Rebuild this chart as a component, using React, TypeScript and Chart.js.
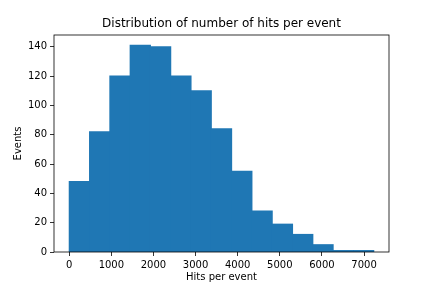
import React, { useEffect, useRef } from "react";
import { Chart, registerables } from "chart.js";

Chart.register(...registerables);

const binEdges = [0, 482, 964, 1446, 1928, 2410, 2892, 3374, 3856, 4338, 4820, 5302, 5784, 6266, 6748, 7230];
const counts = [48, 82, 120, 141, 140, 120, 110, 84, 55, 28, 19, 12, 5, 1, 1];
const xTicks = [0, 1000, 2000, 3000, 4000, 5000, 6000, 7000];
const yTicks = [0, 20, 40, 60, 80, 100, 120, 140];
const titleText = "Distribution of number of hits per event";

const FONT = "DejaVu Sans";

const framePlugin = {
  id: "frame",
  afterDraw(chart: any) {
    const { ctx, chartArea } = chart;
    ctx.save();
    ctx.strokeStyle = "#000";
    ctx.lineWidth = 0.8;
    ctx.strokeRect(chartArea.left, chartArea.top, chartArea.right - chartArea.left, chartArea.bottom - chartArea.top);
    ctx.fillStyle = "#000";
    ctx.font = `12px "${FONT}"`;
    ctx.textAlign = "center";
    ctx.textBaseline = "middle";
    ctx.fillText(titleText, (chartArea.left + chartArea.right) / 2, 24);
    ctx.restore();
  },
};

export default function App() {
  const ref = useRef<HTMLCanvasElement>(null);
  useEffect(() => {
    if (!ref.current) return;
    const span = binEdges[binEdges.length - 1] - binEdges[0];
    const chart = new Chart(ref.current, {
      type: "bar",
      data: {
        datasets: [
          {
            data: counts.map((c, i) => ({ x: (binEdges[i] + binEdges[i + 1]) / 2, y: c })),
            backgroundColor: "#1f77b4",
            borderWidth: 0,
            inflateAmount: 0.5,
            barPercentage: 1,
            categoryPercentage: 1,
          },
        ],
      },
      options: {
        animation: false,
        responsive: false,
        devicePixelRatio: 1,
        layout: { padding: { left: 0, right: 43, top: 35, bottom: 0 } },
        plugins: {
          legend: { display: false },
          tooltip: { enabled: false },
          title: { display: false },
        },
        scales: {
          x: {
            type: "linear",
            offset: false,
            min: binEdges[0] - span * 0.05,
            max: binEdges[binEdges.length - 1] + span * 0.05,
            afterBuildTicks: (s: any) => {
              s.ticks = xTicks.map((v) => ({ value: v }));
            },
            afterFit: (s: any) => {
              s.height = 36;
            },
            grid: { display: true, offset: false, drawOnChartArea: false, drawTicks: true, tickLength: 4, color: "#000", lineWidth: 0.8 },
            border: { display: false },
            ticks: {
              color: "#000",
              font: { family: FONT, size: 10 },
              padding: 3,
              maxRotation: 0,
              autoSkip: false,
              callback: (v: any) => String(v),
            },
            title: { display: true, text: "Hits per event", color: "#000", font: { family: FONT, size: 10 }, padding: { top: 0, bottom: 5 } },
          },
          y: {
            type: "linear",
            min: 0,
            max: 148,
            afterBuildTicks: (s: any) => {
              s.ticks = yTicks.map((v) => ({ value: v }));
            },
            afterFit: (s: any) => {
              s.width = 54;
            },
            grid: { display: true, drawOnChartArea: false, drawTicks: true, tickLength: 4, color: "#000", lineWidth: 0.8 },
            border: { display: false },
            ticks: { color: "#000", font: { family: FONT, size: 10 }, padding: 3, autoSkip: false, callback: (v: any) => String(v) },
            title: { display: true, text: "Events", color: "#000", font: { family: FONT, size: 10 }, padding: { top: 12, bottom: 0 } },
          },
        },
      } as any,
      plugins: [framePlugin],
    });
    return () => chart.destroy();
  }, []);
  return (
    <div style={{ position: "absolute", left: 0, top: 0, width: 432, height: 288, background: "#fff" }}>
      <canvas ref={ref} width={432} height={288} style={{ display: "block" }} />
    </div>
  );
}
